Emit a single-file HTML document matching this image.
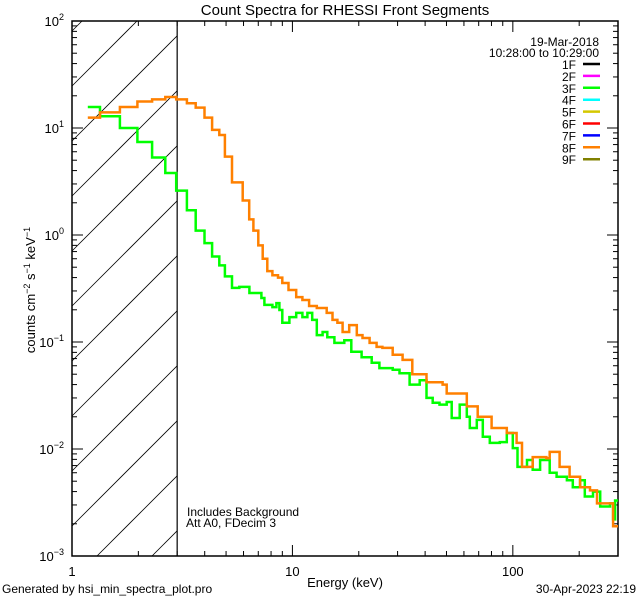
<!DOCTYPE html>
<html><head><meta charset="utf-8"><style>
html,body{margin:0;padding:0;background:#fff;width:640px;height:600px;overflow:hidden;position:relative;}
svg{display:block;font-family:"Liberation Sans",sans-serif;}
</style></head><body>
<svg id="chart" width="640" height="600" viewBox="0 0 640 600" xmlns="http://www.w3.org/2000/svg" style="position:absolute;left:0;top:0"></svg>
<script>
// ---- data ----
const xTickLabels = ["1","10","100"];
const yTickExps = ["2","1","0","\u22121","\u22122","\u22123"];
const greenE = [1.18,1.34,1.65,1.98,2.31,2.65,2.97,3.32,3.64,3.99,4.32,4.66,4.94,5.32,5.74,6.38,7.23,7.46,8.11,8.46,8.73,9.0,9.69,10.4,11.1,11.7,12.3,12.9,13.7,14.4,15.5,17.2,18.5,20.6,22.9,24.8,28.5,30.6,34.0,37.8,40.6,43.3,46.5,50.1,52.8,57.4,61.8,63.8,68.6,73.1,78.6,87.3,93.9,100,105,116,123,133,147,158,176,187,202,212,231,249,276,285,291,300];
const greenV = [15.7,12.9,10,7.4,5.3,3.8,2.6,1.7,1.1,0.84,0.63,0.52,0.41,0.32,0.327,0.287,0.258,0.222,0.212,0.231,0.199,0.151,0.171,0.187,0.171,0.187,0.161,0.116,0.124,0.111,0.098,0.104,0.081,0.072,0.064,0.057,0.055,0.051,0.040,0.044,0.030,0.027,0.026,0.0275,0.0195,0.026,0.020,0.0157,0.0187,0.0130,0.0114,0.0116,0.0141,0.0102,0.0068,0.0079,0.0064,0.0079,0.0060,0.0055,0.0051,0.0044,0.0051,0.0036,0.0040,0.0029,0.0031,0.0022,0.0033];
const orangeE = [1.18,1.34,1.65,1.98,2.31,2.65,2.97,3.32,3.64,3.99,4.32,4.66,4.94,5.32,5.95,6.37,6.65,7.0,7.33,7.69,8.11,8.6,9.0,9.6,10.4,11.1,11.9,12.9,14.3,15.2,16.0,16.9,18.1,19.6,20.8,22.4,24.1,25.6,28.5,31.6,35.0,40.6,48.0,50.1,58.5,61.8,69.3,80.1,93.9,104,110,123,142,147,163,181,202,224,241,267,285,300];
const orangeV = [12.5,14,15.7,17.7,18.5,19.5,18.5,17,15.5,12.5,9.6,8.6,5.4,3.1,2.1,1.4,1.1,0.8,0.6,0.46,0.42,0.40,0.356,0.306,0.263,0.247,0.217,0.208,0.187,0.161,0.151,0.124,0.144,0.116,0.109,0.098,0.090,0.088,0.076,0.068,0.050,0.042,0.040,0.033,0.033,0.025,0.020,0.0157,0.0141,0.0114,0.0068,0.0084,0.0082,0.0094,0.0068,0.0055,0.0044,0.0041,0.0031,0.0031,0.0019];
const legendLabels = ["1F","2F","3F","4F","5F","6F","7F","8F","9F"];
const legendColors = ["#000000","#ff00ff","#00ff00","#00ffff","#d4c800","#ff0000","#0000ff","#ff8000","#808000"];

// ---- axes ----
const L=72,R=618,T=21,B=556;
const xMin=0, xMax=Math.log10(300), yMin=-3, yMax=2;
const xs=e=>L+(Math.log10(e)-xMin)/(xMax-xMin)*(R-L);
const ys=v=>B-(Math.log10(v)-yMin)/(yMax-yMin)*(B-T);
const svg=document.getElementById('chart');
const NS="http://www.w3.org/2000/svg";
function mk(tag,attrs,parent){const e=document.createElementNS(NS,tag);for(const k in attrs)e.setAttribute(k,attrs[k]);(parent||svg).appendChild(e);return e;}

// hatch region 1-3 keV (lines computed inside the rect, slope -1)
const hg=mk('g',{});


const HX=xs(3);
for(let c=526-55*12;c<=526+55*3;c+=55){
  // line: y = c - (x - L)
  let xa=L, ya=c;
  if(ya>B){xa=L+(ya-B);ya=B;}
  let xb=HX, yb=c-(HX-L);
  if(yb<T){xb=L+(c-T);yb=T;}
  if(xa>=xb||xa>HX||xb<L)continue;
  mk('line',{x1:xa,y1:ya,x2:xb,y2:yb,stroke:'#000','stroke-width':0.8},hg);
}
const vl=mk('line',{x1:HX,y1:T,x2:HX,y2:B,stroke:'#000','stroke-width':1.2});



// frame
const fr=mk('rect',{x:L,y:T,width:R-L,height:B-T,fill:'none',stroke:'#000','stroke-width':1.5});



// x ticks
for(let d=0;d<=2;d++){for(let m=1;m<=9;m++){const e=m*Math.pow(10,d);if(e>300)break;const x=xs(e);const len=m===1?11:5;
 mk('line',{x1:x,y1:B,x2:x,y2:B-len,stroke:'#000','stroke-width':1});mk('line',{x1:x,y1:T,x2:x,y2:T+len,stroke:'#000','stroke-width':1});}}
xTickLabels.forEach(t=>{const tx=mk('text',{x:xs(+t),y:B+20,'text-anchor':'middle','font-size':13});tx.textContent=t;
 
 });
// y ticks
for(let d=-3;d<=2;d++){for(let m=1;m<=9;m++){const v=m*Math.pow(10,d);if(v>100)break;const y=ys(v);const len=m===1?11:5;
 mk('line',{x1:L,y1:y,x2:L+len,y2:y,stroke:'#000','stroke-width':1});mk('line',{x1:R,y1:y,x2:R-len,y2:y,stroke:'#000','stroke-width':1});}}
yTickExps.forEach(p=>{const y=ys(Math.pow(10,+p.replace('\u2212','-')));
 const tx=mk('text',{x:64,y:y+5,'text-anchor':'end','font-size':13});
 
 
 tx.appendChild(document.createTextNode('10'));
 const ts=mk('tspan',{dy:-6,'font-size':9},tx);ts.textContent=p;});

// series
function step(E,V,color,name){let d='';for(let i=0;i<V.length;i++){const x1=xs(E[i]),x2=xs(E[i+1]),y=ys(V[i]);d+=(i===0?'M':'L')+x1.toFixed(1)+','+y.toFixed(1)+'L'+x2.toFixed(1)+','+y.toFixed(1);}
 const p=mk('path',{d:d,fill:'none',stroke:color,'stroke-width':2.5,'stroke-linejoin':'miter'});
 
 }
step(greenE,greenV,'#00ff00','series-3f');
step(orangeE,orangeV,'#ff8000','series-8f');

// legend
legendLabels.forEach((l,i)=>{const y=64+i*11.9;
 const tx=mk('text',{x:576,y:y+5,'text-anchor':'end','font-size':12});tx.textContent=l;
 
 
 const ln=mk('line',{x1:583,y1:y,x2:600,y2:y,stroke:legendColors[i],'stroke-width':2.5});
 
 });
</script>
<svg style="position:absolute;left:0;top:0" width="640" height="600">
<text x="345" y="15" text-anchor="middle" font-size="15">Count Spectra for RHESSI Front Segments</text>
<text x="599" y="46" text-anchor="end" font-size="12">19-Mar-2018</text>
<text x="599" y="57" text-anchor="end" font-size="12">10:28:00 to 10:29:00</text>
<text x="187" y="516" font-size="12">Includes Background</text>
<text x="186" y="527" font-size="12">Att A0, FDecim 3</text>
<text x="345" y="587" text-anchor="middle" font-size="13">Energy (keV)</text>
<text transform="translate(35,290) rotate(-90)" text-anchor="middle" font-size="13">counts cm<tspan dy="-5" font-size="9">−2</tspan><tspan dy="5"> s</tspan><tspan dy="-5" font-size="9">−1</tspan><tspan dy="5"> keV</tspan><tspan dy="-5" font-size="9">−1</tspan></text>
<text x="2" y="593" font-size="12">Generated by hsi_min_spectra_plot.pro</text>
<text x="636" y="593" text-anchor="end" font-size="12">30-Apr-2023 22:19</text>
</svg>
</body></html>
